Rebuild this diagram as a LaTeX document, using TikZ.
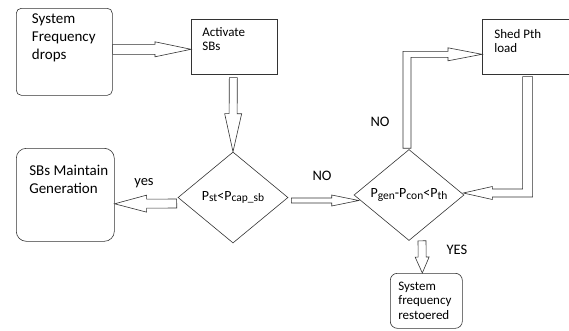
\documentclass[tikz,border=0pt]{standalone}
\usepackage{fontspec}
\setmainfont{Carlito}
\usetikzlibrary{calc,shapes.geometric}
\tikzset{
  ln/.style={draw=black!80, line width=0.6pt},
  rbox/.style={ln, rounded corners=#1, inner sep=0pt, anchor=north west},
  sbox/.style={ln, inner sep=0pt, anchor=north west},
  dia/.style={ln, diamond, inner sep=0pt, minimum width=110pt, minimum height=91pt, font=\fontsize{14}{16}\selectfont},
  blockarr/.style={ln, fill=white, line join=miter},
  lbl/.style={font=\fontsize{14.5}{17}\selectfont, inner sep=0pt},
  bigtxt/.style={font=\fontsize{15}{18}\selectfont},
  smalltxt/.style={font=\fontsize{13}{14.5}\selectfont},
}
\newcommand\boxtext[5]{\parbox[c][#2][t]{#1}{\raggedright\leftskip=#3\relax\parindent=0pt\rule{0pt}{#4}#5\par}}
\newcommand\sub[1]{\raisebox{-1.8pt}{\fontsize{11.5}{11.5}\selectfont #1}}
\newcommand\barrow[5]{%
  \coordinate (baA) at (#1);
  \coordinate (baB) at (#2);
  \coordinate (baH) at ($(baB)!#5!(baA)$);
  \draw[blockarr] ($(baA)!#3!90:(baB)$) -- ($(baH)!#3!-90:(baA)$) -- ($(baH)!#4!-90:(baA)$) -- (baB) -- ($(baH)!#4!90:(baA)$) -- ($(baH)!#3!90:(baA)$) -- ($(baA)!#3!-90:(baB)$) -- cycle;}
\begin{document}
\begin{tikzpicture}[x=1pt,y=-1pt]
\useasboundingbox (0,0) rectangle (569,330);
% boxes
\node[rbox=5pt, bigtxt] (b1) at (16,8) {\boxtext{96pt}{87pt}{15.7pt}{15.5pt}{System\\Frequency\\drops}};
\node[sbox, smalltxt] (b2) at (191,19) {\boxtext{86pt}{55pt}{11pt}{17pt}{Activate\\SBs}};
\node[rbox=10pt, bigtxt] (b3) at (16,148) {\boxtext{98pt}{93pt}{13pt}{27pt}{SBs Maintain\\Generation}};
\node[sbox, smalltxt] (shed) at (482,19) {\boxtext{86.5pt}{55pt}{12pt}{19pt}{Shed Pth\\load}};
\node[rbox=7pt, smalltxt] (rest) at (390,273) {\boxtext{72pt}{55pt}{8pt}{17pt}{System\\frequency\\restoered}};
% decisions
\node[dia] (d1) at (233,197.5) {P\sub{st}<P\sub{cap\_sb}};
\node[dia] (d2) at (409,195) {P\sub{gen}-P\sub{con}<P\sub{th}};
% straight block arrows
\barrow{[yshift=2.5pt]b1.east}{[yshift=-2.5pt]b2.west}{5pt}{7.5pt}{36pt}
\barrow{[xshift=-1pt,yshift=-3pt]b2.south}{d1.north}{4pt}{8.5pt}{38pt}
\barrow{[xshift=-1pt,yshift=-6pt]d1.west}{[yshift=-9pt]b3.east}{4.5pt}{8.5pt}{32pt}
\barrow{[xshift=3pt,yshift=-3pt]d1.east}{[xshift=5pt,yshift=-5.5pt]d2.west}{2.5pt}{5.5pt}{27pt}
\barrow{[xshift=13pt]d2.south}{[xshift=-4pt]rest.north}{4pt}{7pt}{16pt}
% elbow arrow d2 -> shed
\coordinate (n0) at (d2.north);
\coordinate (t0) at ([yshift=-7.5pt]shed.west);
\draw[blockarr] ($(n0)+(-6,-1)$) -- ($(n0 |- t0)+(-6,-3)$) -- ($(t0)+(-34,-3)$) -- ($(t0)+(-34,-6.5)$) -- (t0)
  -- ($(t0)+(-34,6.5)$) -- ($(t0)+(-34,3)$) -- ($(n0 |- t0)+(2,3)$) -- ($(n0)+(2,-1)$) -- cycle;
% elbow arrow shed -> d2
\coordinate (s0) at (shed.south);
\coordinate (t1) at ([xshift=-1pt,yshift=2pt]d2.east);
\draw[blockarr] ($(s0)+(-3,2)$) -- ($(s0 |- t1)+(-3,-4)$) -- ($(t1)+(29,-4)$) -- ($(t1)+(29,-6.5)$) -- (t1)
  -- ($(t1)+(29,6.5)$) -- ($(t1)+(29,4)$) -- ($(s0 |- t1)+(7,4)$) -- ($(s0)+(7,2)$) -- cycle;
% labels
\node[lbl] (lyes) at (144,183) {yes};
\node[lbl] (lno1) at (322,176) {NO};
\node[lbl] (lno2) at (380,122) {NO};
\node[lbl] (lyes2) at (457,250) {YES};
\end{tikzpicture}
\end{document}
